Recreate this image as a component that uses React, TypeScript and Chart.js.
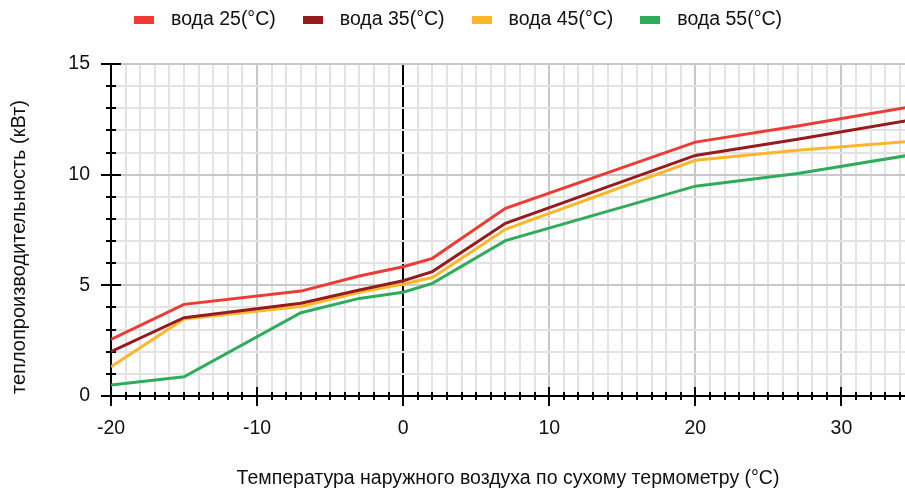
import React, { useEffect, useRef } from 'react';
import { Chart, registerables } from 'chart.js';

Chart.register(...registerables);

// ---- data ----
const temperatures = [-20, -15, -7, -3, 0, 2, 7, 20, 27, 35];
const water25 = [2.56, 4.14, 4.74, 5.42, 5.84, 6.22, 8.48, 11.47, 12.2, 13.1];
const water35 = [2.0, 3.54, 4.19, 4.79, 5.21, 5.62, 7.8, 10.87, 11.6, 12.5];
const water45 = [1.32, 3.48, 4.04, 4.69, 5.06, 5.35, 7.53, 10.65, 11.1, 11.52];
const water55 = [0.5, 0.87, 3.76, 4.41, 4.69, 5.09, 7.02, 9.48, 10.05, 10.92];
const seriesLabels = ['вода 25(°C)', 'вода 35(°C)', 'вода 45(°C)', 'вода 55(°C)'];
const seriesColors = ['#ee3b35', '#951b1e', '#fbb72a', '#2fab5b'];
const xTickLabels = [-20, -10, 0, 10, 20, 30];
const yTickLabels = [0, 5, 10, 15];
const xTitle = 'Температура наружного воздуха по сухому термометру (°C)';
const yTitle = 'теплопроизводительность (кВт)';

const FONT = '"Liberation Sans", Arial, Helvetica, sans-serif';

const customLegend = {
  id: 'customLegend',
  afterDraw(chart: any) {
    const ctx = chart.ctx;
    ctx.save();
    ctx.font = `19.5px ${FONT}`;
    ctx.textBaseline = 'middle';
    ctx.textAlign = 'left';
    const boxW = 20, boxH = 8, gap = 17, itemGap = 27;
    const ds = chart.data.datasets;
    const widths = ds.map((d: any) => ctx.measureText(d.label).width);
    let total = 0;
    widths.forEach((w: number, i: number) => {
      total += boxW + gap + w + (i < widths.length - 1 ? itemGap : 0);
    });
    let x = 458 - total / 2;
    const y = 20;
    ds.forEach((d: any, i: number) => {
      ctx.fillStyle = d.borderColor;
      ctx.fillRect(Math.round(x), Math.round(y - boxH / 2), boxW, boxH);
      ctx.fillStyle = '#111';
      ctx.fillText(d.label, x + boxW + gap, y);
      x += boxW + gap + widths[i] + itemGap;
    });
    // y axis title
    ctx.save();
    ctx.translate(19, 247);
    ctx.rotate(-Math.PI / 2);
    ctx.font = `20px ${FONT}`;
    ctx.textAlign = 'center';
    ctx.textBaseline = 'middle';
    ctx.fillStyle = '#111';
    ctx.fillText(yTitle, 0, 0);
    ctx.restore();
    ctx.restore();
  },
};

const axisTicks = {
  id: 'axisTicks',
  beforeDatasetsDraw(chart: any) {
    const { ctx, chartArea } = chart;
    const xs = chart.scales.x;
    const ys = chart.scales.y;
    ctx.save();
    ctx.strokeStyle = '#000';
    ctx.lineWidth = 2;
    xs.ticks.forEach((t: any) => {
      const px = Math.round(xs.getPixelForValue(t.value));
      const major = xTickLabels.includes(t.value);
      ctx.beginPath();
      ctx.moveTo(px, chartArea.bottom - (major ? 9 : 4));
      ctx.lineTo(px, chartArea.bottom + (major ? 10 : 4));
      ctx.stroke();
    });
    ys.ticks.forEach((t: any) => {
      const py = Math.round(ys.getPixelForValue(t.value));
      const major = yTickLabels.includes(t.value);
      ctx.beginPath();
      ctx.moveTo(chartArea.left - (major ? 10 : 5), py);
      ctx.lineTo(chartArea.left + (major ? 10 : 5), py);
      ctx.stroke();
    });
    ctx.restore();
  },
};

export default function App() {
  const ref = useRef<HTMLCanvasElement | null>(null);

  useEffect(() => {
    document.body.style.margin = '0';
    const canvas = ref.current;
    if (!canvas) return;
    const seriesData = [water25, water35, water45, water55];
    const chart = new Chart(canvas, {
      type: 'line',
      data: {
        datasets: seriesData.map((vals, i) => ({
          label: seriesLabels[i],
          data: temperatures.map((t, j) => ({ x: t, y: vals[j] })),
          borderColor: seriesColors[i],
          backgroundColor: seriesColors[i],
          borderWidth: 3,
          pointRadius: 0,
          pointHoverRadius: 0,
          tension: 0,
          fill: false,
        })),
      },
      options: {
        responsive: false,
        animation: false,
        events: [],
        layout: { padding: { top: 64, left: 0, right: 0, bottom: 0 } },
        plugins: {
          legend: { display: false },
          tooltip: { enabled: false },
          title: { display: false },
        },
        scales: {
          x: {
            type: 'linear',
            min: -20,
            max: 34.35,
            afterFit: (s: any) => {
              s.height = 92;
            },
            ticks: {
              stepSize: 1,
              autoSkip: false,
              includeBounds: false,
              maxTicksLimit: 1000,
              maxRotation: 0,
              minRotation: 0,
              padding: 0,
              color: '#111',
              font: { size: 19.5, family: FONT },
              callback: (v: any) => (xTickLabels.includes(Number(v)) ? String(v) : ''),
            },
            grid: {
              drawTicks: true,
              tickLength: 21,
              tickColor: 'rgba(0,0,0,0)',
              color: (c: any) => {
                const v = c.tick ? c.tick.value : NaN;
                if (v === 0) return '#000';
                return xTickLabels.includes(v) ? '#c8c8c8' : '#e3e3e3';
              },
              lineWidth: 2,
            },
            border: { display: true, color: '#000', width: 2 },
            title: {
              display: true,
              text: xTitle,
              color: '#111',
              font: { size: 19.5, family: FONT, lineHeight: 1 },
              padding: { top: 0, bottom: 0 },
            },
          },
          y: {
            type: 'linear',
            min: 0,
            max: 15,
            afterFit: (s: any) => {
              s.width = 111;
            },
            ticks: {
              stepSize: 1,
              autoSkip: false,
              maxTicksLimit: 1000,
              padding: 0,
              color: '#111',
              font: { size: 19.5, family: FONT },
              callback: (v: any) => (yTickLabels.includes(Number(v)) ? String(v) : ''),
            },
            grid: {
              drawTicks: true,
              tickLength: 21,
              tickColor: 'rgba(0,0,0,0)',
              color: (c: any) => {
                const v = c.tick ? c.tick.value : NaN;
                return yTickLabels.includes(v) ? '#c8c8c8' : '#e3e3e3';
              },
              lineWidth: 2,
            },
            border: { display: true, color: '#000', width: 2 },
            title: { display: false },
          },
        },
      },
      plugins: [axisTicks, customLegend],
    });
    return () => chart.destroy();
  }, []);

  return (
    <div style={{ width: 905, height: 488 }}>
      <canvas ref={ref} width={905} height={488} style={{ display: 'block' }} />
    </div>
  );
}
